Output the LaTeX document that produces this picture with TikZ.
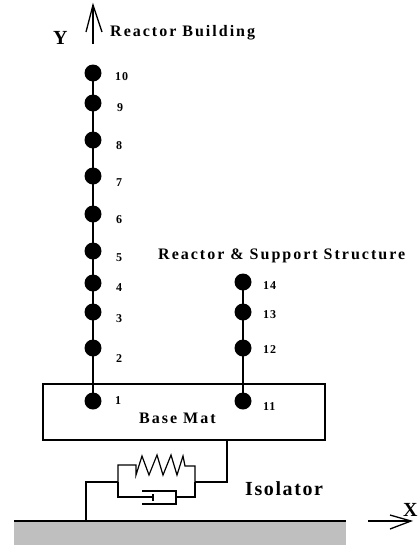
\documentclass[tikz,border=0pt]{standalone}
\usepackage{fontspec}
\setmainfont{Liberation Serif}
\usetikzlibrary{arrows.meta}
\tikzset{
  dot/.style={circle,fill=black,draw=none,inner sep=0pt,minimum width=17pt,minimum height=15pt},
  numlab/.style={font=\bfseries\fontsize{12}{14}\selectfont\addfontfeature{LetterSpace=8},anchor=base west,inner sep=0pt},
  title/.style={font=\bfseries\fontsize{16}{18}\selectfont\addfontfeature{LetterSpace=12.5},anchor=base west,inner sep=0pt},
  big/.style={font=\bfseries\fontsize{20}{22}\selectfont\addfontfeature{LetterSpace=8},anchor=base west,inner sep=0pt},
  wire/.style={draw=black,line width=1.2pt,line join=miter},
  axis/.style={draw=black,line width=1.3pt}
}
\begin{document}
\begin{tikzpicture}[x=1pt,y=-1pt]
\useasboundingbox (0,0) rectangle (420,547);
% base mat and ground
\node[draw=black,line width=1.2pt,minimum width=282pt,minimum height=56pt,inner sep=0pt] (mat) at (184,412) {};
\node[fill=black!25,draw=none,minimum width=332pt,minimum height=24pt,inner sep=0pt] (ground) at (180,533) {};
\coordinate (gl) at (14,521);
\coordinate (gr) at (346,521);
\draw[wire] (gl) -- (gr);
% nodes
\foreach \n/\y in {10/73,9/103,8/140,7/176,6/214,5/251,4/283,3/312,2/348,1/401}
  \node[dot] (n\n) at (93,\y) {};
\foreach \n/\y in {14/282,13/312,12/348,11/401}
  \node[dot] (n\n) at (243,\y) {};
\draw[wire] (n10.center) -- (n9.center) -- (n8.center) -- (n7.center) -- (n6.center) -- (n5.center) -- (n4.center) -- (n3.center) -- (n2.center) -- (n1.center);
\draw[wire] (n14.center) -- (n13.center) -- (n12.center) -- (n11.center);
% number labels
\node[numlab] at (115,80) {10};
\node[numlab] at (117,111) {9};
\node[numlab] at (116,149) {8};
\node[numlab] at (116,186) {7};
\node[numlab] at (116,223) {6};
\node[numlab] at (116,261) {5};
\node[numlab] at (116,291) {4};
\node[numlab] at (116,322) {3};
\node[numlab] at (116,362) {2};
\node[numlab] at (115,404) {1};
\node[numlab] at (263,289) {14};
\node[numlab] at (263,318) {13};
\node[numlab] at (263,353) {12};
\node[numlab] at (263,410) {11};
% titles
\node[title] at (110,36) {Reactor Building};
\node[title] at (158,259) {Reactor \& Support Structure};
\node[title] at (139,423) {Base Mat};
\node[big] at (53,44) {Y};
\node[big] at (245,495) {Isolator};
\node[big] at (403,516) {X};
% axes
\coordinate (yb) at (93,44);
\coordinate (yt) at (93,5);
\coordinate (yw1) at (86,32);
\coordinate (yw2) at (102,32);
\draw[axis] (yb) -- (yt);
\draw[axis] (yw1) -- (yt) -- (yw2);
\coordinate (xl) at (368,521);
\coordinate (xr) at (411,521);
\coordinate (xw1) at (390,515);
\coordinate (xw2) at (390,529);
\draw[axis] (xl) -- (xr);
\draw[axis] (xw1) -- (xr) -- (xw2);
% isolator
\coordinate (matb) at (227,440);
\coordinate (rj) at (195,482);
\coordinate (lj) at (118,482);
\coordinate (gj) at (86,521);
\draw[wire] (matb) -- (227,482) -- (rj);
\draw[wire] (lj) -- (86,482) -- (gj);
% spring
\draw[wire] (lj) -- (118,465) -- (136,465) -- (136,475) -- (142,456) -- (149,475) -- (157,455) -- (163,475) -- (171,455) -- (177,475) -- (183,456) -- (185,466) -- (195,466) -- (rj);
% dashpot
\draw[wire] (lj) -- (118,497) -- (153,497);
\draw[wire] (153,494) -- (153,501);
\draw[wire] (142,491) -- (176,491) -- (176,504) -- (142,504);
\draw[wire] (176,497) -- (195,497) -- (rj);
\end{tikzpicture}
\end{document}
